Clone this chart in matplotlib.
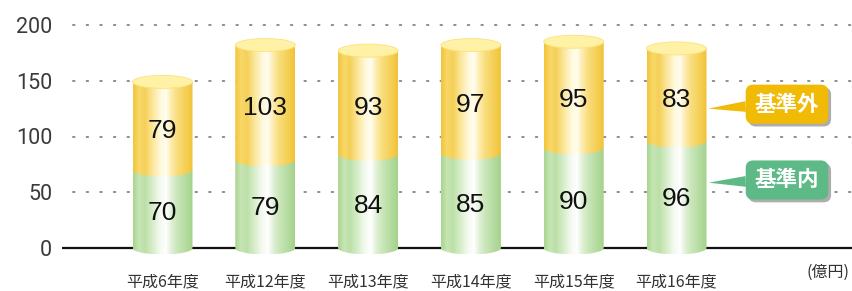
import numpy as np
import matplotlib
matplotlib.use("Agg")
import matplotlib.pyplot as plt
from matplotlib.colors import LinearSegmentedColormap
from matplotlib.patches import Polygon, Ellipse
import matplotlib.patheffects as pe

years = ["平成6年度", "平成12年度", "平成13年度", "平成14年度", "平成15年度", "平成16年度"]
inner = [70, 79, 84, 85, 90, 96]      # 基準内
outer = [79, 103, 93, 97, 95, 83]     # 基準外
yticks = [0, 50, 100, 150, 200]

plt.rcParams['font.family'] = ['Noto Sans CJK JP', 'DejaVu Sans']

yellow = LinearSegmentedColormap.from_list("y", [
    (0.0, "#F2C43A"), (0.1, "#F8D868"), (0.2, "#F5D058"), (0.32, "#FBE596"),
    (0.45, "#FFF8D8"), (0.55, "#FFFDF0"), (0.63, "#FDEDB4"), (0.73, "#F9DE80"),
    (0.86, "#F6D25C"), (1.0, "#F1C238")])
green = LinearSegmentedColormap.from_list("g", [
    (0.0, "#A9D58F"), (0.1, "#C6E5B4"), (0.2, "#BCE0A8"), (0.32, "#D6EDC8"),
    (0.45, "#F4FAF0"), (0.55, "#FFFFFF"), (0.63, "#E4F2DB"), (0.73, "#CBE7BB"),
    (0.86, "#B9DDA5"), (1.0, "#A3D28A")])

fig = plt.figure(figsize=(8.52, 2.91), dpi=100)
ppu = 223 / 200.0          # pixels per y unit
spacing = 102.8            # pixels between bars
c0 = 162.5
ylo, yhi = -38, 205
bot_px = 248 + (-ylo) * ppu
top_px = 248 - yhi * ppu
ax = fig.add_axes([62 / 852, (291 - bot_px) / 291, 790 / 852, (bot_px - top_px) / 291])
ax.set_xlim((62 - c0) / spacing, (852 - c0) / spacing)
ax.set_ylim(ylo, yhi)
for s in ax.spines.values():
    s.set_visible(False)
ax.set_xticks([])
ax.set_yticks(yticks)
ax.set_yticklabels([str(v) for v in yticks], fontsize=15.5, color="#3a3a3a",
                   family="Roboto", fontweight="normal")
ax.tick_params(axis="y", length=0, pad=7)

# grid and base line
x_dot0 = (73 - c0) / spacing
x_end = (851 - c0) / spacing
ax.hlines(yticks[1:], x_dot0, x_end, colors="#8c8c8c", linewidth=1.4,
          linestyles=[(0, (0.8, 6.2))] * 4, capstyle="round", zorder=1)
ax.hlines([0], (62 - c0) / spacing, x_end + 0.02, colors="#111111", linewidth=1.6, zorder=1)

w = 60 / spacing
eh = 13 / ppu
th = np.linspace(0, -np.pi, 60)
grad = np.linspace(0, 1, 256).reshape(1, -1)


def segment(xc, y0, y1, cmap, z):
    verts = [(xc - w / 2, y1), (xc + w / 2, y1)]
    verts += [(xc + w / 2 * np.cos(t), y0 + eh / 2 * np.sin(t)) for t in th]
    poly = Polygon(verts, closed=True, facecolor="none", edgecolor="none",
                   transform=ax.transData)
    im = ax.imshow(grad, cmap=cmap, aspect="auto", interpolation="bilinear",
                   extent=[xc - w / 2, xc + w / 2, y0 - eh / 2, y1], zorder=z)
    im.set_clip_path(poly)


for i in range(len(years)):
    a, b = inner[i], outer[i]
    segment(i, 0, a, green, 2)
    segment(i, a, a + b, yellow, 3)
    ax.add_patch(Ellipse((i, a + b), w, eh, facecolor="#FFF2A6",
                         edgecolor="#FBE27A", linewidth=0.6, zorder=4))
    ax.text(i, a / 2 - 4, str(a), ha="center", va="center", fontsize=19,
            family="Liberation Sans", color="#111111", zorder=5)
    ax.text(i, a + b / 2 - 5, str(b), ha="center", va="center", fontsize=19,
            family="Liberation Sans", color="#111111", zorder=5)
    ax.text(i, -30, years[i], ha="center", va="center", fontsize=11.5,
            color="#333333")

ax.text((850 - c0) / spacing, -22, "(億円)", ha="right", va="center",
        fontsize=11.5, color="#333333")

# tags
last = len(years) - 1
tags = [("基準外", "#F0BA05", inner[last] + 29, 129),
        ("基準内", "#5DBA86", inner[last] * 0.61, 61)]
for label, col, ytip, ybox in tags:
    t = ax.annotate(label, xy=(last + w / 2 + 0.02, ytip),
                    xytext=((787 - c0) / spacing, ybox),
                    ha="center", va="center", fontsize=15.5, fontweight="bold",
                    color="white", zorder=6,
                    bbox=dict(boxstyle="round,pad=0.42,rounding_size=0.35",
                              fc=col, ec="none"),
                    arrowprops=dict(arrowstyle="wedge,tail_width=0.5,shrink_factor=0.5",
                                    fc=col, ec="none", shrinkA=0, shrinkB=0))
    t.get_bbox_patch().set_path_effects([
        pe.SimplePatchShadow(offset=(2, -2), shadow_rgbFace="#777777", alpha=0.6),
        pe.Normal()])

fig.savefig("out.png", dpi=100)
